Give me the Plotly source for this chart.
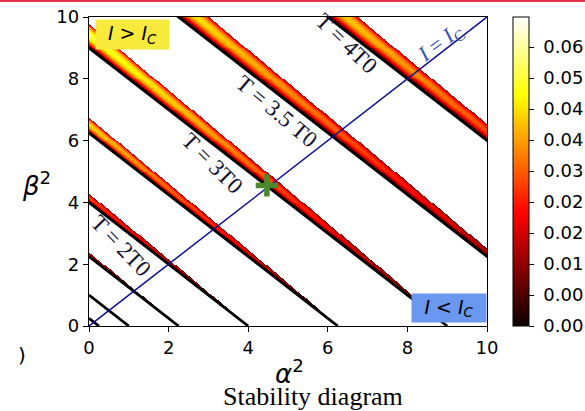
import numpy as np
import plotly.graph_objects as go

# ---------------- data ----------------
# T contours: alpha^2 + beta^2 = root^2
level_roots = [0.5, 1.0, 1.5, 2.0, 2.5, 3.0, 3.5, 4.0]
# coloured band above each contour: width (in alpha^2+beta^2 units) and peak value
# at the beta^2 axis (beta^2 share = 1); both shrink towards the alpha^2 axis
band_width = [0.0, 0.05, 0.15, 0.30, 0.50, 0.78, 0.95, 1.15]
band_peak = [0.0, 0.010, 0.022, 0.032, 0.048, 0.057, 0.059, 0.068]
width_exp = 0.85
peak_exp = 0.75

x_ticks = [0, 2, 4, 6, 8, 10]
y_ticks = [0, 2, 4, 6, 8, 10]
cb_tickvals = [0.0, 0.007, 0.014, 0.021, 0.028, 0.035, 0.042, 0.049, 0.056, 0.063]
cb_ticktext = ["0.00", "0.00", "0.01", "0.02", "0.02", "0.03", "0.04", "0.04", "0.05", "0.06"]
z_max = 0.0698

critical_x = [0, 10]
critical_y = [0, 10]
marker_x = [4.47]
marker_y = [4.55]

t_labels = ["T = 2T0", "T = 3T0", "T = 3.5 T0", "T = 4T0"]
t_label_x = [0.79, 3.11, 4.72, 6.47]
t_label_y = [2.59, 5.27, 6.95, 9.15]
t_label_angle = [46, 45, 40, 44]

# ---------------- field ----------------
gx = np.linspace(0, 10, 400)
gy = np.linspace(0, 10, 320)
X, Y = np.meshgrid(gx, gy)
S = X + Y
T = np.where(S > 0, Y / np.maximum(S, 1e-9), 0.0)
Z = np.full(S.shape, np.nan)
for r, w, p in zip(level_roots, band_width, band_peak):
    c = r * r
    if w <= 0:
        continue
    wl = w * T ** width_exp
    u = (S - c) / np.maximum(wl, 1e-9)
    mask = (u >= 0) & (u <= 1) & (wl > 2e-3)
    val = p * T ** peak_exp * np.sin(0.87 * np.pi * u)
    Z[mask] = val[mask]
Z = np.round(Z, 5)
Z_list = [[None if np.isnan(v) else float(v) for v in row] for row in Z]

hot = [[0.0, "#0b0000"], [0.365, "#ff0000"], [0.746, "#ffff00"], [1.0, "#ffffff"]]

fig = go.Figure()
fig.add_trace(go.Heatmap(
    x=gx, y=gy, z=Z_list, zmin=0, zmax=z_max, colorscale=hot,
    hoverinfo="skip",
    colorbar=dict(
        x=1.0646, xanchor="left", xref="paper", y=0.5, yanchor="middle",
        len=1.0, lenmode="fraction", ypad=0, xpad=0, thickness=16,
        outlinecolor="black", outlinewidth=1,
        ticks="outside", ticklen=5, tickcolor="black", tickwidth=1,
        tickvals=cb_tickvals, ticktext=["\u00a0" + t for t in cb_ticktext],
        tickfont=dict(family="DejaVu Sans", size=18, color="black"),
    ),
))

for r in level_roots:
    c = r * r
    fig.add_trace(go.Scatter(x=[0, c], y=[c, 0], mode="lines",
                             line=dict(color="black", width=2.8),
                             hoverinfo="skip", showlegend=False))

fig.add_trace(go.Scatter(x=critical_x, y=critical_y, mode="lines",
                         line=dict(color="#0c0c90", width=1.5),
                         hoverinfo="skip", showlegend=False))
fig.add_trace(go.Scatter(x=marker_x, y=marker_y, mode="markers",
                         marker=dict(symbol="cross-thin", size=16,
                                     line=dict(color="#4b8a2c", width=5.5)),
                         hoverinfo="skip", showlegend=False))

for txt, lx, ly, ang in zip(t_labels, t_label_x, t_label_y, t_label_angle):
    fig.add_annotation(x=lx, y=ly, xref="x", yref="y", text=txt, showarrow=False,
                       textangle=ang, xanchor="center", yanchor="middle",
                       font=dict(family="Liberation Serif", size=23, color="#12122e"))

fig.add_annotation(x=8.84, y=9.15, xref="x", yref="y",
                   text="<i>I</i> = <i>I</i><sub>C</sub>", showarrow=False,
                   textangle=-37, xanchor="center", yanchor="middle",
                   font=dict(family="Liberation Serif", size=22, color="#3552b0"))

# region boxes
fig.add_annotation(x=0.015, y=0.9935, xref="paper", yref="paper", xanchor="left", yanchor="top",
                   text="<i>I</i> > <i>I</i><sub><i>C</i></sub>", showarrow=False,
                   bgcolor="#f8ea3c", borderpad=0, width=73, height=29,
                   font=dict(family="DejaVu Sans", size=19, color="black"))
fig.add_annotation(x=0.809, y=0.107, xref="paper", yref="paper", xanchor="left", yanchor="top",
                   text="<i>I</i> < <i>I</i><sub><i>C</i></sub>", showarrow=False,
                   bgcolor="#6a97f0", borderpad=0, width=74, height=28,
                   font=dict(family="DejaVu Sans", size=19, color="black"))

# axis labels and caption (pixel positions converted to paper coords)
def px(xp):
    return (xp - 89) / 398.0

def py(yp):
    return 1 - (yp - 17) / 309.0

fig.add_annotation(x=px(36), y=py(184), xref="paper", yref="paper", showarrow=False,
                   text="<i>β</i><sup>2</sup>", xanchor="center", yanchor="middle",
                   font=dict(family="DejaVu Sans", size=26, color="black"))
fig.add_annotation(x=px(289), y=py(372), xref="paper", yref="paper", showarrow=False,
                   text="<i>α</i><sup>2</sup>", xanchor="center", yanchor="middle",
                   font=dict(family="DejaVu Sans", size=26, color="black"))
fig.add_annotation(x=px(313), y=py(396), xref="paper", yref="paper", showarrow=False,
                   text="Stability diagram", xanchor="center", yanchor="middle",
                   font=dict(family="Liberation Serif", size=26, color="black"))
fig.add_annotation(x=px(22), y=py(355), xref="paper", yref="paper", showarrow=False,
                   text=")", xanchor="center", yanchor="middle",
                   font=dict(family="DejaVu Sans", size=20, color="black"))

fig.add_shape(type="line", xref="paper", yref="paper", x0=px(0), x1=px(585),
              y0=py(1), y1=py(1), line=dict(color="#e6324b", width=2))

axis_common = dict(range=[0, 10], showgrid=False, zeroline=False, showline=True,
                   mirror=True, linecolor="black", linewidth=1.3,
                   ticks="outside", ticklen=5, tickwidth=1.3, tickcolor="black",
                   tickfont=dict(family="DejaVu Sans", size=18, color="black"))
fig.update_xaxes(tickvals=x_ticks, **axis_common)
fig.update_yaxes(tickvals=y_ticks, **axis_common)

fig.update_layout(
    width=585, height=411,
    margin=dict(l=89, r=98, t=17, b=85, autoexpand=False),
    plot_bgcolor="white", paper_bgcolor="white",
    showlegend=False,
)

fig.write_html("out.html")
